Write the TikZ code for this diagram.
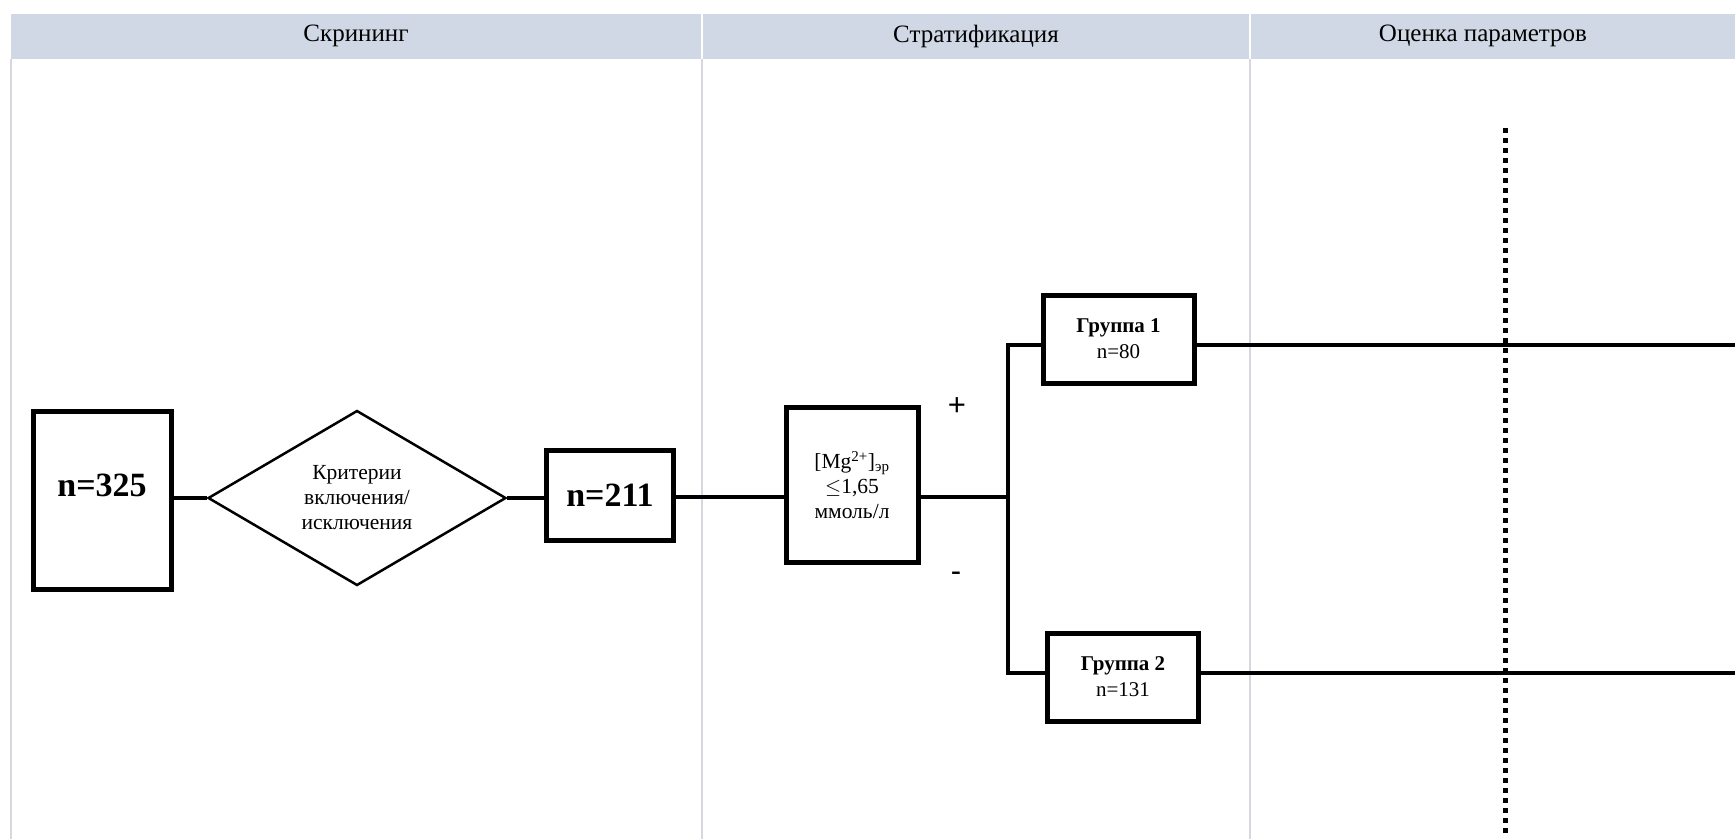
\documentclass[tikz,border=0pt]{standalone}
\usepackage{fontspec}
\setmainfont{Liberation Serif}
\newfontfamily\signfont{Liberation Sans}
\usetikzlibrary{shapes.geometric,calc}
\definecolor{headfill}{RGB}{208,216,230}
\definecolor{laneline}{RGB}{214,216,222}
\tikzset{
  box/.style={draw=black, line width=5pt, fill=white, inner sep=0pt, align=center},
  link/.style={draw=black, line width=4.2pt},
  lane/.style={draw=laneline, line width=2pt},
  headtext/.style={font=\fontsize{25}{30}\selectfont},
  bignum/.style={font=\bfseries\fontsize{34}{40}\selectfont},
  midtext/.style={font=\fontsize{21.5}{25}\selectfont, align=center},
  grouptext/.style={font=\fontsize{21}{26}\selectfont, align=center},
  signtext/.style={font=\signfont\fontsize{31}{36}\selectfont},
  dotline/.style={draw=black, line width=5pt, dash pattern=on 5pt off 5pt}
}
\begin{document}
\begin{tikzpicture}[x=1pt,y=-1pt]
\useasboundingbox[fill=white] (0,0) rectangle (1735,839);

% header band and swimlanes
\fill[headfill] (11,14) rectangle (1735,59);
\draw[white, line width=2pt] (702,14) -- (702,59) (1250,14) -- (1250,59);
\draw[lane] (11,59) -- (11,839) (702,59) -- (702,839) (1250,59) -- (1250,839);
\node[headtext] (h1) at (356,36) {Скрининг};
\node[headtext] (h2) at (976,36) {Стратификация};
\node[headtext] (h3) at (1483,36) {Оценка параметров};

% screening
\node[box, minimum width=138pt, minimum height=178pt] (n325) at (102,500) {};
\node[bignum] (n325t) at (102,485) {n=325};
\node[diamond, draw=black, line width=2.5pt, fill=white, minimum width=298pt,
      minimum height=173pt, inner sep=0pt, midtext] (crit) at (357,498)
      {Критерии\\включения/\\исключения};
\node[box, minimum width=127pt, minimum height=90pt, bignum] (n211) at (610,495) {n=211};

% stratification
\node[box, minimum width=132pt, minimum height=155pt, midtext] (mg) at (852,485)
      {[Mg\textsuperscript{2+}]\textsubscript{эр}\\$\leq$1,65\\ммоль/л};
\node[box, minimum width=151pt, minimum height=88pt, grouptext] (g1) at (1118.5,339)
      {\textbf{Группа 1}\\n=80};
\node[box, minimum width=151pt, minimum height=88pt, grouptext] (g2) at (1123,677)
      {\textbf{Группа 2}\\n=131};
\node[signtext] (plus) at (957,407) {+};
\node[signtext] (minus) at (956,577) {-};

\coordinate (jn) at (1008,497);
\coordinate (jtop) at (1008,345);
\coordinate (jbot) at (1008,673);
\coordinate (edge) at (1735,0);

% connectors
\draw[link] (crit.west) -- (crit.west -| n325.east);
\draw[link] (crit.east) -- (crit.east -| n211.west);
\draw[link] (n211.east |- jn) -- (mg.west |- jn);
\draw[link] (mg.east |- jn) -- (jn);
\draw[link] (jtop -| g1.west) -- (jtop) -- (jbot) -- (jbot -| g2.west);
\draw[link] (g1.east |- jtop) -- (jtop -| edge);
\draw[link] (g2.east |- jbot) -- (jbot -| edge);

% time marker in the assessment lane
\coordinate (dtop) at (1505,128);
\coordinate (dbot) at (1505,834);
\draw[dotline] (dtop) -- (dbot);
\end{tikzpicture}
\end{document}
